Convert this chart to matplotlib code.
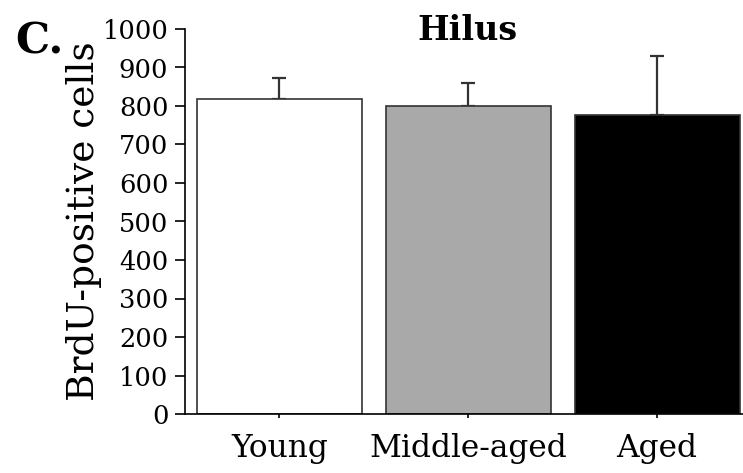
import matplotlib
matplotlib.use("Agg")
import matplotlib.pyplot as plt

# data
groups = ["Young", "Middle-aged", "Aged"]
means = [818, 800, 777]
sems = [54, 60, 154]
colors = ["white", "#a9a9a9", "black"]
yticks = list(range(0, 1001, 100))

plt.rcParams["font.family"] = "DejaVu Serif"

fig = plt.figure(figsize=(7.43, 4.73), dpi=100)
ax = fig.add_axes([185 / 743, 59 / 473, 1 - 185 / 743, 385 / 473])

x = range(len(groups))
ax.bar(x, means, width=0.873, color=colors, edgecolor="#333333", linewidth=1.2, zorder=2)
ax.errorbar(x, means, yerr=[[0] * 3, sems], fmt="none", ecolor="#333333",
            elinewidth=1.6, capsize=5, capthick=1.6, zorder=1)

ax.set_ylim(0, 1000)
ax.set_xlim(-0.5, 2.455)
ax.set_yticks(yticks)
ax.set_xticks(list(x))
ax.set_xticklabels(groups, fontsize=22.5)
ax.tick_params(axis="y", labelsize=18.5, length=7, width=1.2, pad=5)
ax.tick_params(axis="x", length=3, width=1.2, pad=11)
ax.spines["top"].set_visible(False)
ax.spines["right"].set_visible(False)
ax.spines["left"].set_linewidth(1.2)
ax.spines["bottom"].set_linewidth(1.2)
ax.set_ylabel("BrdU-positive cells", fontsize=27, labelpad=0)

fig.text(467 / 743, 1 - 40 / 473, "Hilus", ha="center", va="baseline",
         fontsize=24, fontweight="bold")
fig.text(15 / 743, 1 - 53 / 473, "C.", ha="left", va="baseline",
         fontsize=31, fontweight="bold")

plt.savefig("out.png", dpi=100)
